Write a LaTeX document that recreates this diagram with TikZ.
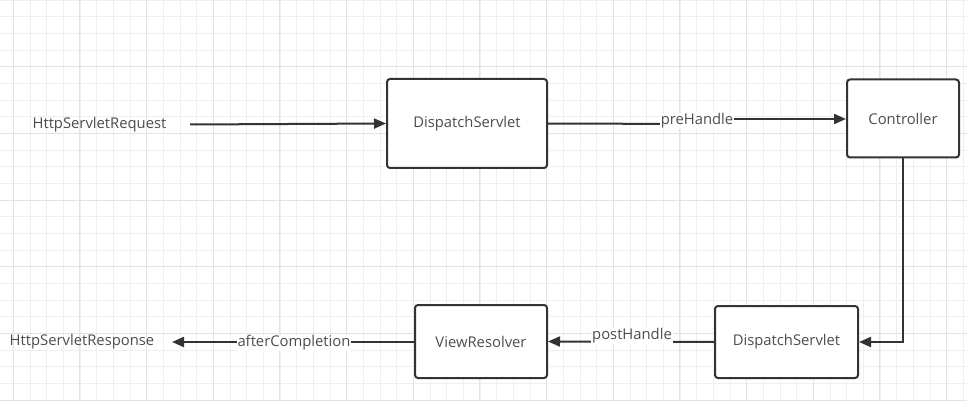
\documentclass[tikz,border=0pt]{standalone}
\usepackage{fontspec}
\setmainfont{Open Sans}
\usetikzlibrary{arrows.meta}
\definecolor{gridminor}{HTML}{EFEFEF}
\definecolor{gridmajor}{HTML}{E3E3E3}
\definecolor{ink}{HTML}{333333}
\definecolor{txt}{HTML}{4D4D4D}
\tikzset{
  box/.style={draw=ink, line width=2pt, rounded corners=3pt, fill=white, inner sep=0pt, text=txt, font=\fontsize{14.8}{17}\selectfont},
  lbl/.style={text=txt, font=\fontsize{14.8}{17}\selectfont, inner sep=1pt},
  elbl/.style={lbl, fill=white},
  conn/.style={draw=ink, line width=2pt},
  arr/.style={conn, -{Triangle[length=12pt,width=10pt]}}
}
\begin{document}
\begin{tikzpicture}[x=1pt,y=-1pt]
\useasboundingbox (0,0) rectangle (967,401);
\fill[white] (0,0) rectangle (967,401);
% grid
\foreach \i in {0,...,58} {
  \pgfmathsetmacro{\xx}{13.3+16.667*\i}
  \draw[gridminor, line width=0.9pt] (\xx,0) -- (\xx,401);
}
\foreach \i in {0,...,24} {
  \pgfmathsetmacro{\yy}{16.667*\i}
  \draw[gridminor, line width=0.9pt] (0,\yy) -- (967,\yy);
}
\foreach \i in {0,...,14} {
  \pgfmathsetmacro{\xx}{13.3+66.667*\i}
  \draw[gridmajor, line width=1pt] (\xx,0) -- (\xx,401);
}
\foreach \i in {0,...,6} {
  \pgfmathsetmacro{\yy}{66.667*\i}
  \draw[gridmajor, line width=1pt] (0,\yy) -- (967,\yy);
}
% nodes
\node[lbl] (req) at (99.5,125) {HttpServletRequest};
\coordinate (reqend) at (190,124.5);
\node[box, minimum width=160pt, minimum height=89pt] (ds1) at (467,123.5) {DispatchServlet};
\node[box, minimum width=112pt, minimum height=78pt] (ctrl) at (903,118.5) {Controller};
\node[box, minimum width=143pt, minimum height=72pt] (ds2) at (786.5,342) {DispatchServlet};
\node[box, minimum width=132pt, minimum height=73pt] (vr) at (481,341.5) {ViewResolver};
\node[lbl] (resp) at (82,342) {HttpServletResponse};
\coordinate (respend) at (172,342);
% connectors
\draw[arr] (reqend) -- (ds1.west);
\coordinate (j1) at (697,124);
\draw[conn] (ds1.east) -- (j1);
\draw[arr] (697,119) -- (ctrl.west |- 0,119);
\node[elbl] (pre) at (697,121) {preHandle};
\draw[arr] (ctrl.south) |- (ds2.east);
\draw[arr] (ds2.west) -- (vr.east);
\node[elbl] (post) at (632,336) {postHandle};
\draw[arr] (vr.west |- 0,342) -- (respend);
\node[elbl] (after) at (294,343) {afterCompletion};
\end{tikzpicture}
\end{document}
